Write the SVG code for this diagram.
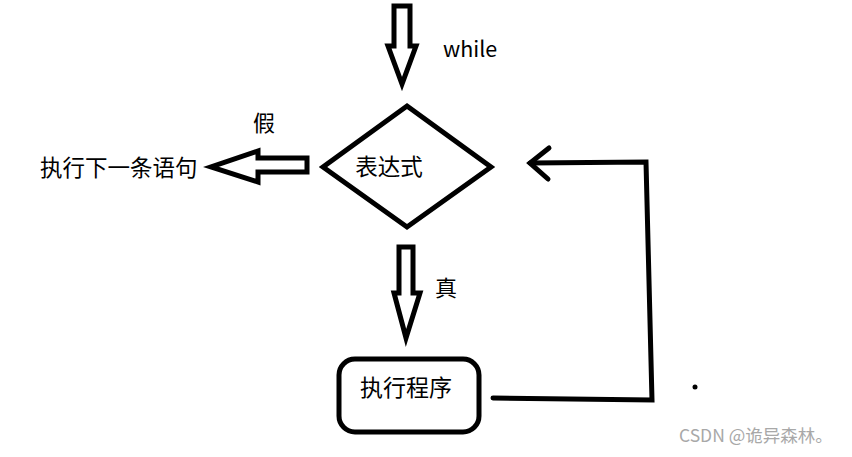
<svg xmlns="http://www.w3.org/2000/svg" width="852" height="457" viewBox="0 0 852 457">
<style>
.s{fill:none;stroke:#000;stroke-width:5;stroke-linejoin:miter;stroke-linecap:round}
.t{font-family:"Microsoft YaHei","Noto Sans CJK SC",sans-serif;fill:#000}
</style>
<rect width="852" height="457" fill="#fff"/>
<g id="connectors">
<path class="s" d="M394,6 H410 V46 H416 L402,84 L388,46 H394 Z"/>
<path class="s" d="M307,158 V172 H258 V182 L211,167 L258,151 V158 Z"/>
<path class="s" d="M399,247 H413 V293 H420 L406,338 L394,293 H399 Z"/>
<path class="s" d="M493,398 L652,400 L646,162 L530,163"/>
<path class="s" d="M549,148 L530,163 L548,179"/>
</g>
<g id="n_start"><text class="t" x="443" y="57" font-size="21.5">while</text></g>
<g id="n_cond">
<path class="s" d="M407,106 L491,167 L407,227 L323,167 Z"/>
<text class="t" x="389" y="175" font-size="22.5" text-anchor="middle">表达式</text>
</g>
<g id="n_false"><text class="t" x="264" y="131" font-size="22" text-anchor="middle">假</text></g>
<g id="n_next"><text class="t" x="40" y="176" font-size="22.5">执行下一条语句</text></g>
<g id="n_true"><text class="t" x="446" y="296" font-size="22" text-anchor="middle">真</text></g>
<g id="n_body">
<rect class="s" x="339" y="359" width="140" height="73" rx="16"/>
<text class="t" x="406" y="396" font-size="23" text-anchor="middle">执行程序</text>
</g>
<circle cx="695" cy="387" r="2.5" fill="#000"/>
<text x="679" y="442" font-family="Microsoft YaHei,'Noto Sans CJK SC',sans-serif" font-size="17.5" fill="#a8a8a8">CSDN @诡异森林。</text>
</svg>
